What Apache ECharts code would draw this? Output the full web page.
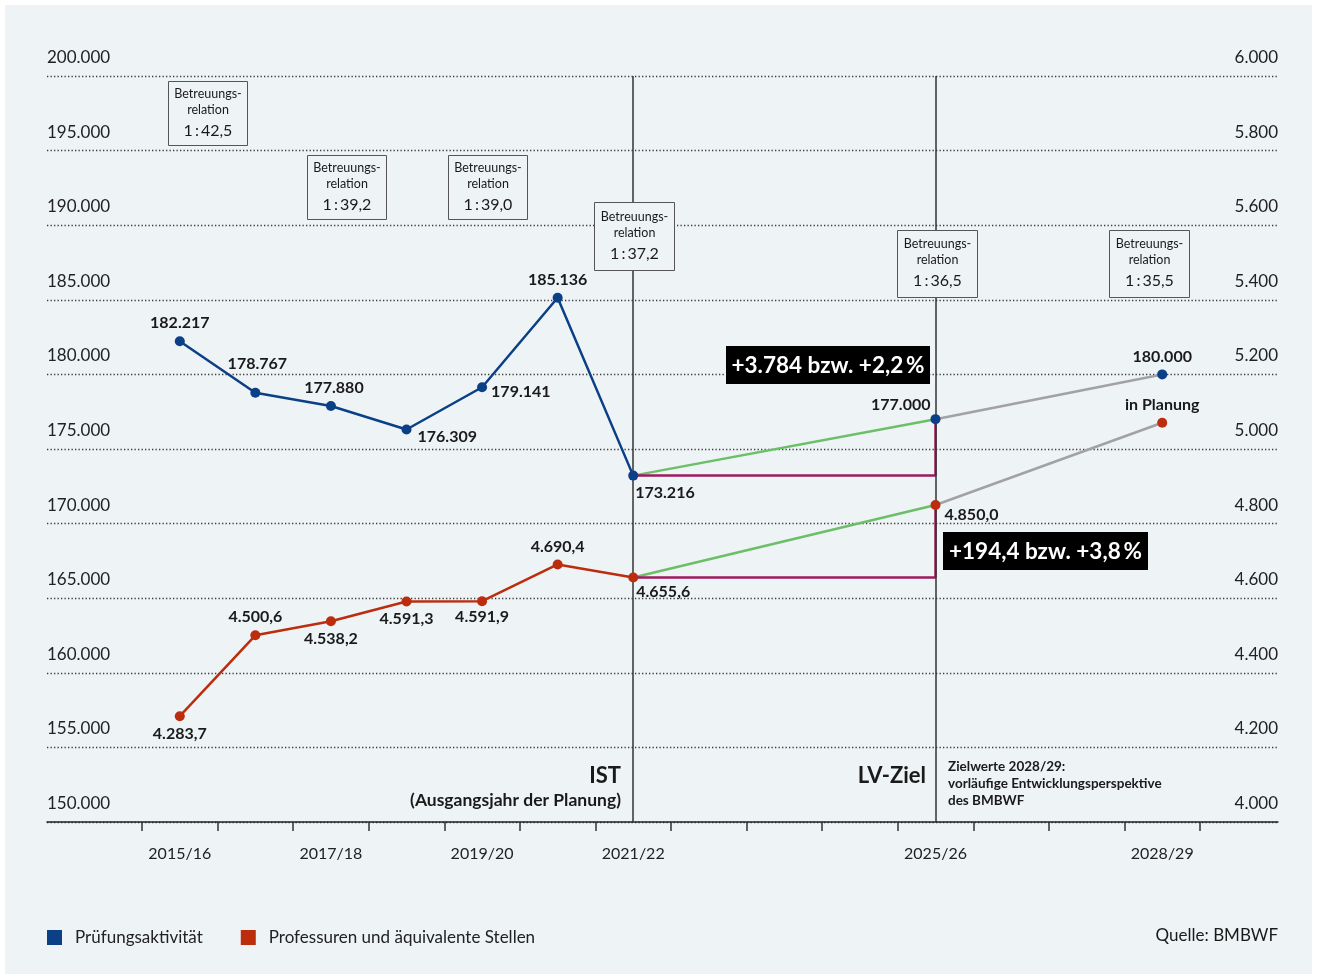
<!DOCTYPE html>
<html><head><meta charset="utf-8">
<script src="https://cdn.jsdelivr.net/npm/echarts@6/dist/echarts.min.js"></script>
<style>
html,body{margin:0;padding:0;background:#fff;}
#panel{position:absolute;left:5px;top:5px;width:1307px;height:969px;background:#eef3f6;}
#chart{position:absolute;left:0;top:0;width:1317px;height:979px;}
</style></head>
<body><div id="panel"></div><div id="chart"></div>
<script>
// ---- data ----
const years = ['2015/16','2016/17','2017/18','2018/19','2019/20','2020/21','2021/22','2022/23','2023/24','2024/25','2025/26','2026/27','2027/28','2028/29'];
const shownYearIdx = [0,2,4,6,10,13];
const studyActivity = [182217,178767,177880,176309,179141,185136,173216];
const professorships = [4283.7,4500.6,4538.2,4591.3,4591.9,4690.4,4655.6];
const targetYears = ['2021/22','2025/26','2028/29'];
const studyTargets = [173216,177000,180000];
const profTargets = [4655.6,4850.0,5070.4];
const ratioTexts = ['1\u2009:\u200942,5','1\u2009:\u200939,2','1\u2009:\u200939,0','1\u2009:\u200937,2','1\u2009:\u200936,5','1\u2009:\u200935,5'];
const leftTicks = {min:150000,max:200000,interval:5000};
const rightTicks = {min:4000,max:6000,interval:200};
const seriesNames = ['Prüfungsaktivität','Professuren und äquivalente Stellen'];
const diffTexts = ['+3.784 bzw. +2,2\u2009%','+194,4 bzw. +3,8\u2009%'];

// ---- style ----
const FONT = "Lato, 'Noto Sans', sans-serif";
const BLUE = '#0b3f86', RED = '#bb2d0c', GREEN = '#6cbf68', GREY = '#a2a2a2', PURPLE = '#9d1b5c', INK = '#1a1a1a';
const fmtT = v => Math.round(v).toString().replace(/\B(?=(\d{3})+(?!\d))/g, '.');
const fmtD = v => { const p = v.toFixed(1).split('.'); return fmtT(+p[0]) + ',' + p[1]; };
const valOf = p => Array.isArray(p.value) ? p.value[1] : p.value;

const L = (position, distance, offset) => ({show:true, position, distance, offset: offset || [0,0]});
const blueLabelPos = [L('top',5), L('top',16,[2,0]), L('top',5,[3,0]), L('right',6,[0,7]), L('right',4,[0,5]), L('top',5), L('right',0,[-3,17])];
const redLabelPos = [L('bottom',5), L('top',5), L('bottom',5), L('bottom',4,[0,0]), L('bottom',3), L('top',5), L('right',0,[-2,14])];
const blueTargetLabelPos = [L('left',0,[0,-14]), L('top',5)];
const redTargetLabelPos = [L('right',4,[0,10]), L('top',5)];

const labelStyle = {fontFamily: FONT, fontSize: 16, fontWeight: 'bold', color: INK};

const chart = echarts.init(document.getElementById('chart'), null, {renderer:'canvas'});

function pairs(xs, ys){ return xs.map((x,i)=>[x, ys[i]]); }

const markLines = {
  silent: true, symbol: ['none','none'], label: {show:false},
  lineStyle: {color:'#333', width:1.5, type:'solid'},
  data: [{xAxis: targetYears[0]}, {xAxis: targetYears[1]}]
};

const option = {
  animation: false,
  textStyle: {fontFamily: FONT},
  grid: [
    {left:47, right:39, top:76, bottom:157},
    {left:142, right:117, top:76, bottom:157}
  ],
  xAxis: [
    {gridIndex:0, type:'value', min:0, max:1, axisLine:{show:true, onZero:false, lineStyle:{color:'#222', width:1.5}}, axisTick:{show:false}, axisLabel:{show:false}, splitLine:{show:false}},
    {gridIndex:1, type:'category', data: years, boundaryGap:true,
      axisLine:{show:false},
      axisTick:{show:true, interval:0, length:9, lineStyle:{color:'#333', width:1.5}},
      axisLabel:{interval:(i)=>shownYearIdx.includes(i), margin:24, fontFamily:FONT, fontSize:16, color:'#222'},
      splitLine:{show:false}}
  ],
  yAxis: [
    {gridIndex:0, type:'value', position:'left', min:leftTicks.min, max:leftTicks.max, interval:leftTicks.interval,
      axisLine:{show:false}, axisTick:{show:false},
      axisLabel:{inside:true, margin:0, align:'left', verticalAlign:'bottom', padding:[0,0,10,0], fontFamily:FONT, fontSize:17, color:'#222', formatter:v=>fmtT(v)},
      splitLine:{show:true, lineStyle:{color:'#3a3a3a', width:1.3, type:[1.3,2.2]}}},
    {gridIndex:0, type:'value', position:'right', min:rightTicks.min, max:rightTicks.max, interval:rightTicks.interval,
      axisLine:{show:false}, axisTick:{show:false},
      axisLabel:{inside:true, margin:0, align:'right', verticalAlign:'bottom', padding:[0,0,10,0], fontFamily:FONT, fontSize:17, color:'#222', formatter:v=>fmtT(v)},
      splitLine:{show:false}},
    {gridIndex:1, type:'value', show:false, min:leftTicks.min, max:leftTicks.max},
    {gridIndex:1, type:'value', show:false, min:rightTicks.min, max:rightTicks.max}
  ],
  legend: {
    data: seriesNames, left:47, top:929, padding:0, icon:'rect', itemWidth:15, itemHeight:15, itemGap:38,
    textStyle:{fontFamily:FONT, fontSize:17, color:'#222', padding:[0,0,0,8]}
  },
  series: [
    // study activity
    {name:seriesNames[0], type:'line', xAxisIndex:1, yAxisIndex:2, z:5,
      data: studyActivity.map((v,i)=>({value:v, label: blueLabelPos[i]})),
      color: BLUE, lineStyle:{width:2.5, color:BLUE}, symbol:'circle', symbolSize:10, itemStyle:{color:BLUE},
      label:Object.assign({formatter:p=>fmtT(valOf(p))}, labelStyle),
      markLine: markLines},
    {name:'s-green', type:'line', xAxisIndex:1, yAxisIndex:2, z:3, data: pairs(targetYears.slice(0,2), studyTargets.slice(0,2)),
      showSymbol:false, symbol:'none', lineStyle:{width:2.5, color:GREEN}},
    {name:'s-grey', type:'line', xAxisIndex:1, yAxisIndex:2, z:3, data: pairs(targetYears.slice(1,3), studyTargets.slice(1,3)),
      showSymbol:false, symbol:'none', lineStyle:{width:2.5, color:GREY}},
    {name:'s-gap', type:'line', xAxisIndex:1, yAxisIndex:2, z:4,
      data: [[targetYears[0], studyTargets[0]], [targetYears[1], studyTargets[0]], [targetYears[1], studyTargets[1]]],
      showSymbol:false, symbol:'none', lineStyle:{width:2.5, color:PURPLE}},
    {name:'s-targets', type:'scatter', xAxisIndex:1, yAxisIndex:2, z:6, symbolSize:10, itemStyle:{color:BLUE, opacity:1},
      data: pairs(targetYears.slice(1,3), studyTargets.slice(1,3)).map((d,i)=>({value:d, label: blueTargetLabelPos[i]})),
      label:Object.assign({formatter:p=>fmtT(valOf(p))}, labelStyle)},
    // professorships
    {name:seriesNames[1], type:'line', xAxisIndex:1, yAxisIndex:3, z:5,
      data: professorships.map((v,i)=>({value:v, label: redLabelPos[i]})),
      color: RED, lineStyle:{width:2.5, color:RED}, symbol:'circle', symbolSize:10, itemStyle:{color:RED},
      label:Object.assign({formatter:p=>fmtD(valOf(p))}, labelStyle)},
    {name:'p-green', type:'line', xAxisIndex:1, yAxisIndex:3, z:3, data: pairs(targetYears.slice(0,2), profTargets.slice(0,2)),
      showSymbol:false, symbol:'none', lineStyle:{width:2.5, color:GREEN}},
    {name:'p-grey', type:'line', xAxisIndex:1, yAxisIndex:3, z:3, data: pairs(targetYears.slice(1,3), profTargets.slice(1,3)),
      showSymbol:false, symbol:'none', lineStyle:{width:2.5, color:GREY}},
    {name:'p-gap', type:'line', xAxisIndex:1, yAxisIndex:3, z:4,
      data: [[targetYears[0], profTargets[0]], [targetYears[1], profTargets[0]], [targetYears[1], profTargets[1]]],
      showSymbol:false, symbol:'none', lineStyle:{width:2.5, color:PURPLE}},
    {name:'p-targets', type:'scatter', xAxisIndex:1, yAxisIndex:3, z:6, symbolSize:10, itemStyle:{color:RED, opacity:1},
      data: pairs(targetYears.slice(1,3), profTargets.slice(1,3)).map((d,i)=>({value:d, label: redTargetLabelPos[i]})),
      label:Object.assign({formatter:p=> p.dataIndex === 1 ? 'in Planung' : fmtD(valOf(p))}, labelStyle)}
  ]
};

// ---- annotations ----
const boxGeom = [[168,81,79,64],[307,155,79,64],[448,155,79,64],[594,202,80,68],[897,230,80,67],[1109,230,80,67]];
const graphics = [];
boxGeom.forEach((g,i)=>{
  const [x,y,w,h] = g;
  const extra = h - 64;
  graphics.push({type:'group', left:x, top:y, z:100, silent:true, children:[
    {type:'rect', shape:{x:0,y:0,width:w,height:h}, style:{fill:'#eef3f6', stroke:'#555', lineWidth:1}, z:100},
    {type:'text', x:w/2, y:12+extra/2, z:101, style:{text:'Betreuungs-', fill:INK, font:'12.5px '+FONT, textAlign:'center', textVerticalAlign:'middle'}},
    {type:'text', x:w/2, y:28+extra/2, z:101, style:{text:'relation', fill:INK, font:'12.5px '+FONT, textAlign:'center', textVerticalAlign:'middle'}},
    {type:'text', x:w/2, y:49+extra/2, z:101, style:{text:ratioTexts[i], fill:INK, font:'16px '+FONT, textAlign:'center', textVerticalAlign:'middle'}}
  ]});
});
const diffGeom = [[726,346,204,38],[943,532,205,38]];
diffGeom.forEach((g,i)=>{
  const [x,y,w,h] = g;
  graphics.push({type:'group', left:x, top:y, z:100, silent:true, children:[
    {type:'rect', shape:{x:0,y:0,width:w,height:h}, style:{fill:'#000'}, z:100},
    {type:'text', x:w/2, y:h/2+1, z:101, style:{text:diffTexts[i], fill:'#fff', font:'bold 22.5px '+FONT, textAlign:'center', textVerticalAlign:'middle'}}
  ]});
});
const txt = (x,y,text,font,align) => ({type:'text', x, y, z:100, silent:true, style:{text, fill:INK, font, textAlign:align||'left', textVerticalAlign:'middle'}});
graphics.push(txt(621,776,'IST','bold 22px '+FONT,'right'));
graphics.push(txt(621,800,'(Ausgangsjahr der Planung)','bold 17.5px '+FONT,'right'));
graphics.push(txt(926,776,'LV-Ziel','bold 22px '+FONT,'right'));
graphics.push(txt(948,767,'Zielwerte 2028/29:','bold 13.5px '+FONT));
graphics.push(txt(948,784,'vorläufige Entwicklungsperspektive','bold 13.5px '+FONT));
graphics.push(txt(948,801,'des BMBWF','bold 13.5px '+FONT));
graphics.push(txt(1278,936,'Quelle: BMBWF','17px '+FONT,'right'));
option.graphic = graphics;

chart.setOption(option);
</script>
</body></html>
